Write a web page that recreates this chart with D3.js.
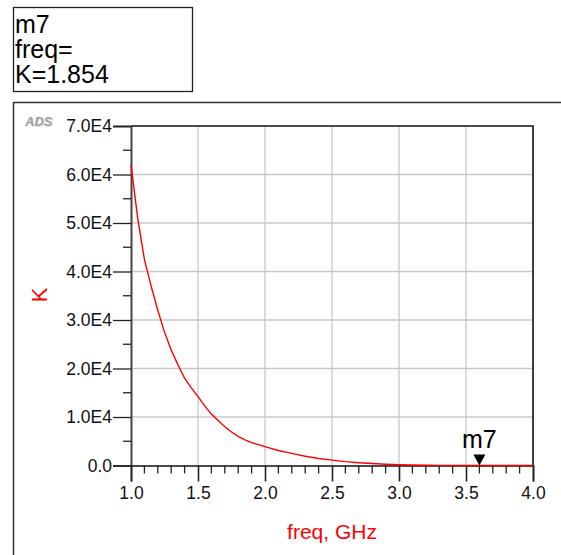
<!DOCTYPE html>
<html>
<head>
<meta charset="utf-8">
<script src="https://cdn.jsdelivr.net/npm/d3@7"></script>
<style>
  body { margin: 0; background: #fff; }
  text { font-family: "Liberation Sans", Arial, Helvetica, sans-serif; }
</style>
</head>
<body>
<script>
// K vs freq
var freqs = [1.00, 1.05, 1.10, 1.15, 1.20, 1.25, 1.30, 1.35, 1.40, 1.45,
             1.50, 1.55, 1.60, 1.65, 1.70, 1.75, 1.80, 1.85, 1.90, 1.95,
             2.00, 2.10, 2.20, 2.30, 2.40, 2.50, 2.60, 2.70, 2.80, 2.90,
             3.00, 3.10, 3.20, 3.30, 3.40, 3.50, 3.60, 3.70, 3.80, 3.90, 4.00];
var kValues = [62000, 51000, 42500, 37000, 32000, 27500, 23800, 20800, 18000, 16000,
               14200, 12300, 10600, 9300, 8000, 6900, 6000, 5300, 4700, 4300,
               3900, 3100, 2500, 1900, 1450, 1100, 800, 580, 400, 260,
               160, 90, 50, 25, 12, 6, 1.854, 1, 0.5, 0.2, 0.1];
var xTicks = [1.0, 1.5, 2.0, 2.5, 3.0, 3.5, 4.0];
var yTicks = [0, 10000, 20000, 30000, 40000, 50000, 60000, 70000];
var yTickLabels = ["0.0", "1.0E4", "2.0E4", "3.0E4", "4.0E4", "5.0E4", "6.0E4", "7.0E4"];
var markerName = "m7";
var markerFreq = 3.6;
var markerK = 1.854;

var width = 561, height = 555;

var svg = d3.select("body").append("svg")
    .attr("width", width)
    .attr("height", height);

var plot = { left: 131, right: 533, top: 126, bottom: 465.5 };

var x = d3.scaleLinear().domain([1.0, 4.0]).range([plot.left, plot.right]);
var y = d3.scaleLinear().domain([0, 70000]).range([plot.bottom, plot.top]);

// marker readout box
svg.append("rect")
    .attr("x", 13.5).attr("y", 7.5)
    .attr("width", 179).attr("height", 84)
    .attr("fill", "white")
    .attr("stroke", "#222")
    .attr("stroke-width", 1.3);

var readout = [markerName, "freq=", "K=" + markerK];
svg.selectAll(".readout")
    .data(readout)
    .enter().append("text")
    .attr("class", "readout")
    .attr("x", 15)
    .attr("y", function (d, i) { return 33 + i * 25; })
    .attr("font-size", 25)
    .attr("fill", "black")
    .text(function (d) { return d; });

// outer chart frame (runs off to the right and bottom)
svg.append("path")
    .attr("d", "M13.5," + (height + 2) + "V102.5H" + (width + 2))
    .attr("fill", "none")
    .attr("stroke", "#333")
    .attr("stroke-width", 1.5);

// ADS logo
svg.append("text")
    .attr("x", 26).attr("y", 127)
    .attr("font-size", 13)
    .attr("font-weight", "bold")
    .attr("font-style", "italic")
    .attr("fill", "#e2e2e2")
    .text("ADS");
svg.append("text")
    .attr("x", 25).attr("y", 126)
    .attr("font-size", 13)
    .attr("font-weight", "bold")
    .attr("font-style", "italic")
    .attr("fill", "#a0a0a0")
    .text("ADS");

// grid
svg.append("g")
    .selectAll("line")
    .data(xTicks.slice(1, -1))
    .enter().append("line")
    .attr("x1", function (d) { return x(d); })
    .attr("x2", function (d) { return x(d); })
    .attr("y1", plot.top).attr("y2", plot.bottom)
    .attr("stroke", "#c8c8c8")
    .attr("stroke-width", 1.3);

svg.append("g")
    .selectAll("line")
    .data(yTicks.slice(1, -1))
    .enter().append("line")
    .attr("x1", plot.left).attr("x2", plot.right)
    .attr("y1", function (d) { return y(d); })
    .attr("y2", function (d) { return y(d); })
    .attr("stroke", "#c8c8c8")
    .attr("stroke-width", 1.3);

// plot border top and right
svg.append("path")
    .attr("d", "M" + plot.left + "," + plot.top + "H" + plot.right + "V" + plot.bottom)
    .attr("fill", "none")
    .attr("stroke", "#111")
    .attr("stroke-width", 1.6);

// y axis
var yAxis = d3.axisLeft(y)
    .tickValues(yTicks)
    .tickSize(18)
    .tickPadding(1)
    .tickFormat(function (d, i) { return yTickLabels[i]; });

var gy = svg.append("g")
    .attr("transform", "translate(" + plot.left + ",0)")
    .call(yAxis);
gy.select(".domain").attr("stroke", "#444").attr("stroke-width", 2);
gy.selectAll(".tick line").attr("stroke", "#222").attr("stroke-width", 1.3);
gy.selectAll(".tick text")
    .attr("font-family", "Liberation Sans, Arial, sans-serif")
    .attr("font-size", 17.5)
    .attr("fill", "#111");

var yMinor = d3.range(5000, 70000, 10000);
svg.append("g")
    .selectAll("line")
    .data(yMinor)
    .enter().append("line")
    .attr("x1", plot.left - 8).attr("x2", plot.left)
    .attr("y1", function (d) { return y(d); })
    .attr("y2", function (d) { return y(d); })
    .attr("stroke", "#222")
    .attr("stroke-width", 1.3);

// x axis
var xAxis = d3.axisBottom(x)
    .tickValues(xTicks)
    .tickSize(16)
    .tickPadding(5)
    .tickFormat(d3.format(".1f"));

var gx = svg.append("g")
    .attr("transform", "translate(0," + plot.bottom + ")")
    .call(xAxis);
gx.select(".domain").attr("stroke", "#111").attr("stroke-width", 1.6);
gx.selectAll(".tick line").attr("stroke", "#222").attr("stroke-width", 1.6);
gx.selectAll(".tick text")
    .attr("font-family", "Liberation Sans, Arial, sans-serif")
    .attr("font-size", 17.5)
    .attr("fill", "#111");

var xMinor = d3.range(10, 41).map(function (d) { return d / 10; })
    .filter(function (d) { return Math.round(d * 10) % 5 !== 0; });
svg.append("g")
    .selectAll("line")
    .data(xMinor)
    .enter().append("line")
    .attr("x1", function (d) { return x(d); })
    .attr("x2", function (d) { return x(d); })
    .attr("y1", plot.bottom).attr("y2", plot.bottom + 8)
    .attr("stroke", "#222")
    .attr("stroke-width", 1.3);

// axis titles
svg.append("text")
    .attr("x", (plot.left + plot.right) / 2)
    .attr("y", 539)
    .attr("text-anchor", "middle")
    .attr("font-size", 21)
    .attr("fill", "red")
    .text("freq, GHz");

svg.append("text")
    .attr("transform", "translate(47,295) rotate(-90)")
    .attr("text-anchor", "middle")
    .attr("font-size", 22)
    .attr("fill", "red")
    .text("K");

// curve
var line = d3.line()
    .x(function (d, i) { return x(freqs[i]); })
    .y(function (d) { return y(d); });

svg.append("path")
    .datum(kValues)
    .attr("d", line)
    .attr("fill", "none")
    .attr("stroke", "red")
    .attr("stroke-width", 1.4);

// marker
var mx = x(markerFreq), my = y(markerK);
svg.append("path")
    .attr("d", "M" + (mx - 6) + "," + (my - 11) + "L" + (mx + 6) + "," + (my - 11) + "L" + mx + "," + my + "Z")
    .attr("fill", "black");

svg.append("text")
    .attr("x", mx)
    .attr("y", my - 17)
    .attr("text-anchor", "middle")
    .attr("font-size", 25)
    .attr("fill", "black")
    .text(markerName);
</script>
</body>
</html>
